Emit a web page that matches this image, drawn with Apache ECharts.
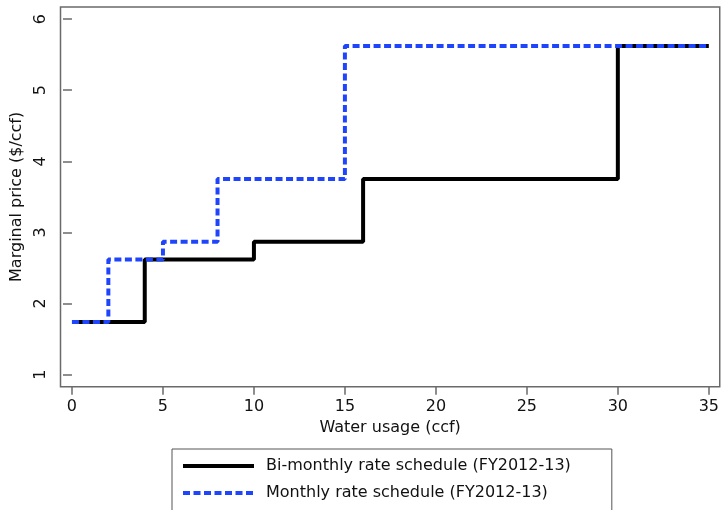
<!DOCTYPE html>
<html>
<head>
<meta charset="utf-8">
<script src="https://cdn.jsdelivr.net/npm/echarts@6/dist/echarts.min.js"></script>
<style>
  html, body { margin: 0; padding: 0; background: #fff; }
  #chart { width: 722px; height: 510px; }
</style>
</head>
<body>
<div id="chart"></div>
<script>
// 两种水价阶梯（用水量 ccf -> 边际价格 $/ccf）
const biMonthlyUsage = [0, 4, 10, 16, 30, 35];
const biMonthlyPrice = [1.74, 2.62, 2.87, 3.75, 5.62, 5.62];
const monthlyUsage = [0, 2, 5, 8, 15, 35];
const monthlyPrice = [1.74, 2.62, 2.87, 3.75, 5.62, 5.62];

const xTicks = [0, 5, 10, 15, 20, 25, 30, 35];
const yTicks = [1, 2, 3, 4, 5, 6];

const seriesNames = ['Bi-monthly rate schedule (FY2012-13)', 'Monthly rate schedule (FY2012-13)'];

const font = 'DejaVu Sans';
const frameColor = '#6a6a6a';

const chart = echarts.init(document.getElementById('chart'));

chart.setOption({
    animation: false,
    backgroundColor: '#fff',
    grid: {
        left: 60.5,
        right: 1,
        top: 7,
        bottom: 123.3,
        show: true,
        borderColor: frameColor,
        borderWidth: 1.5
    },
    legend: {
        left: 172,
        top: 449,
        height: 200,
        orient: 'vertical',
        itemWidth: 71,
        itemHeight: 16,
        itemGap: 11,
        padding: [9, 41, 30, 9],
        borderColor: '#555',
        borderWidth: 1,
        data: seriesNames,
        itemStyle: { opacity: 0 },
        lineStyle: { width: 4, opacity: 1 },
        textStyle: { fontFamily: font, fontSize: 16, color: '#111', padding: [0, 0, 0, 7] }
    },
    xAxis: {
        type: 'value',
        min: -0.63,
        max: 35.6,
        name: 'Water usage (ccf)',
        nameLocation: 'middle',
        nameGap: 33,
        nameTextStyle: { fontFamily: font, fontSize: 16, color: '#111' },
        axisLine: { show: false },
        axisTick: { show: true, length: 8, customValues: xTicks, lineStyle: { color: frameColor, width: 1.5 } },
        axisLabel: { customValues: xTicks, margin: 12, fontFamily: font, fontSize: 16, color: '#111' },
        splitLine: { show: false }
    },
    yAxis: {
        type: 'value',
        min: 0.83,
        max: 6.17,
        name: 'Marginal price ($/ccf)',
        nameLocation: 'middle',
        nameGap: 35.5,
        nameTextStyle: { fontFamily: font, fontSize: 16, color: '#111' },
        axisLine: { show: false },
        axisTick: { show: true, length: 9, customValues: yTicks, lineStyle: { color: frameColor, width: 1.5 } },
        axisLabel: { customValues: yTicks, rotate: 90, margin: 12, fontFamily: font, fontSize: 16, color: '#111' },
        splitLine: { show: false }
    },
    series: [
        {
            name: seriesNames[0],
            type: 'line',
            step: 'end',
            symbol: 'none',
            data: biMonthlyUsage.map((u, i) => [u, biMonthlyPrice[i]]),
            lineStyle: { color: '#000', width: 4 },
            itemStyle: { color: '#000' }
        },
        {
            name: seriesNames[1],
            type: 'line',
            step: 'end',
            symbol: 'none',
            data: monthlyUsage.map((u, i) => [u, monthlyPrice[i]]),
            lineStyle: { color: '#1f45fc', width: 4, type: [7, 3.5] },
            itemStyle: { color: '#1f45fc' }
        }
    ]
});
</script>
</body>
</html>
